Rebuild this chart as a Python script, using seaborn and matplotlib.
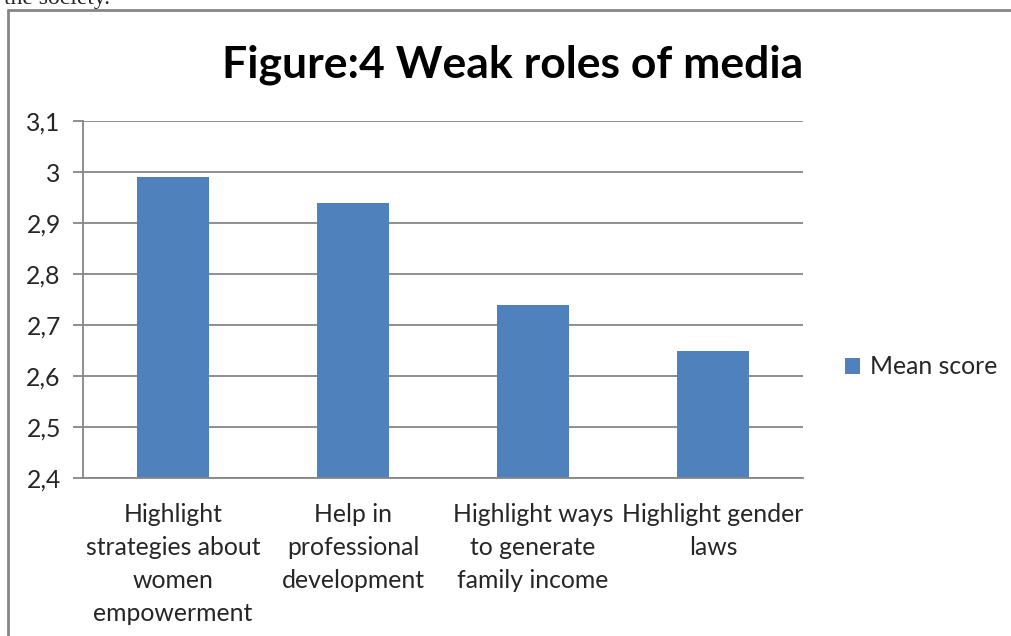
import pandas as pd
import matplotlib.pyplot as plt
import matplotlib.ticker as mticker
from matplotlib.lines import Line2D
import seaborn as sns

# Chart values
categories = ['Highlight\nstrategies about\nwomen\nempowerment',
              'Help in\nprofessional\ndevelopment',
              'Highlight ways\nto generate\nfamily income',
              'Highlight gender\nlaws']
mean_score = [2.99, 2.94, 2.74, 2.65]
y_ticks = [2.4, 2.5, 2.6, 2.7, 2.8, 2.9, 3.0, 3.1]

df = pd.DataFrame({'role': categories, 'score': mean_score})

sns.set_theme(style='white')
plt.rcParams['font.family'] = ['Lato', 'DejaVu Sans']

fig = plt.figure(figsize=(10.12, 6.36), dpi=100)
ax = fig.add_axes([0.082, 0.2484, 0.7115, 0.5613])

sns.barplot(data=df, x='role', y='score', color='#4F81BD', width=0.4,
            saturation=1, linewidth=0, label='Mean score', ax=ax)

ax.set_ylim(2.4, 3.1)
ax.set_xlim(-0.5, 3.5)
ax.set_yticks(y_ticks)
ax.yaxis.set_major_formatter(mticker.FuncFormatter(
    lambda v, p: f'{v:g}'.replace('.', ',')))
ax.yaxis.grid(True, color='#868686', linewidth=1.3)
ax.set_axisbelow(True)
ax.set_xlabel('')
ax.set_ylabel('')

# category boundary ticks like the original
ax.set_xticks([-0.5, 0.5, 1.5, 2.5, 3.5], minor=True)
ax.tick_params(axis='x', which='major', length=0, pad=18, labelsize=17.8)
ax.tick_params(axis='x', which='minor', length=7, color='#868686', width=1.3)
ax.tick_params(axis='y', which='major', length=7, color='#868686', width=1.3,
               labelsize=17.8, left=True, pad=9)
for lbl in ax.get_xticklabels():
    lbl.set_linespacing(1.52)

for s in ['top', 'right']:
    ax.spines[s].set_visible(False)
for s in ['left', 'bottom']:
    ax.spines[s].set_color('#868686')
    ax.spines[s].set_linewidth(1.3)

fig.suptitle('Figure:4 Weak roles of media', x=0.507, y=0.93,
             fontsize=32, fontweight='bold', color='black')

leg = ax.legend(loc='center left', bbox_to_anchor=(0.835, 0.423),
                bbox_transform=fig.transFigure, frameon=False,
                borderpad=0, borderaxespad=0,
                fontsize=17.8, handlelength=0.6, handleheight=0.6,
                handletextpad=0.4)

# chart frame and the cut-off text line above it
fig.add_artist(Line2D([0.0075, 0.0075], [0.0, 0.985], color='#868686', linewidth=2))
fig.add_artist(Line2D([0.0075, 1.0], [0.985, 0.985], color='#868686', linewidth=2))
fig.text(0.004, 0.993, 'the society.', family='Liberation Serif', fontsize=17,
         va='baseline', ha='left')

fig.savefig('out.png', dpi=100)
